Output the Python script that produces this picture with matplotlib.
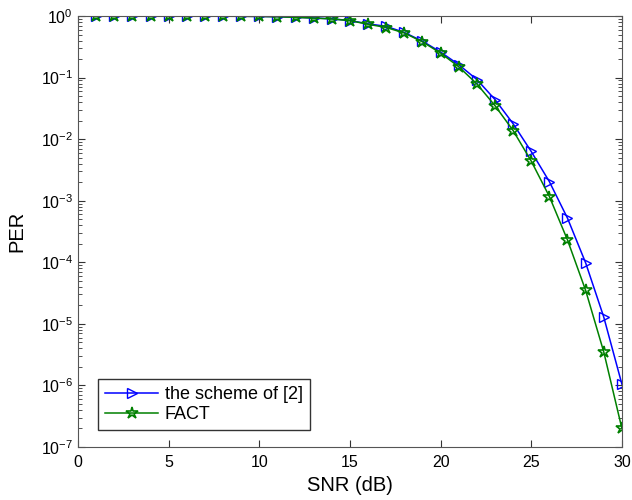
import numpy as np
import matplotlib.pyplot as plt
from matplotlib.ticker import LogLocator, NullFormatter

plt.rcParams['font.family'] = ['Liberation Sans', 'DejaVu Sans']
plt.rcParams['mathtext.fontset'] = 'custom'
plt.rcParams['mathtext.rm'] = 'Liberation Sans'

snr = np.arange(1, 31)

# PER of the scheme of [2]
per_ref = [0.999, 0.999, 0.998, 0.998, 0.997, 0.996, 0.995, 0.993, 0.99, 0.985,
           0.975, 0.955, 0.93, 0.90, 0.845, 0.745, 0.68, 0.54, 0.39, 0.26,
           0.162, 0.093, 0.044, 0.0178, 0.0063, 0.00204, 5.2e-4, 9.8e-5, 1.29e-5, 1.05e-6]
# PER of FACT
per_fact = [0.998, 0.998, 0.997, 0.997, 0.996, 0.995, 0.994, 0.992, 0.988, 0.983,
            0.972, 0.95, 0.925, 0.895, 0.84, 0.735, 0.65, 0.53, 0.38, 0.25,
            0.15, 0.079, 0.035, 0.0138, 0.0044, 0.00117, 2.3e-4, 3.5e-5, 3.5e-6, 2.0e-7]

yticks = [1e-7, 1e-6, 1e-5, 1e-4, 1e-3, 1e-2, 1e-1, 1]

fig = plt.figure(figsize=(6.32, 5), dpi=100)
ax = fig.add_axes([0.1234, 0.106, 0.8606, 0.862])

ax.semilogy(snr, per_ref, '-', color='blue', lw=1.1, marker='>', ms=7,
            mfc='none', mec='blue', mew=1.0, label='the scheme of [2]')
ax.semilogy(snr, per_fact, '-', color='green', lw=1.1, marker='*', ms=9,
            mfc='none', mec='green', mew=1.2, label='FACT')

ax.set_xlim(0, 30)
ax.set_ylim(1e-7, 1)
ax.set_xticks(np.arange(0, 31, 5))
ax.set_yticks(yticks)
ax.yaxis.set_minor_locator(LogLocator(base=10, subs=np.arange(2, 10), numticks=20))
ax.yaxis.set_minor_formatter(NullFormatter())

ax.tick_params(which='both', direction='in', top=True, right=True,
               colors='#333333', labelcolor='black', labelsize=11.5)
ax.tick_params(which='major', length=5)
ax.tick_params(which='minor', length=3)
ax.tick_params(axis='x', pad=6)
for s in ax.spines.values():
    s.set_color('#555555')

ax.set_xlabel('SNR (dB)', fontsize=14.5)
ax.set_ylabel('PER', fontsize=14.5)
ax.xaxis.set_label_coords(0.5, -0.068)
ax.yaxis.set_label_coords(-0.095, 0.5)

leg = ax.legend(loc='lower left', bbox_to_anchor=(0.037, 0.039), borderaxespad=0,
                fontsize=13, fancybox=False, framealpha=1, edgecolor='#333333',
                handlelength=2.9, handletextpad=0.4, borderpad=0.4,
                labelspacing=0.15)
leg.get_frame().set_linewidth(1.0)

fig.savefig('out.png', dpi=100)
